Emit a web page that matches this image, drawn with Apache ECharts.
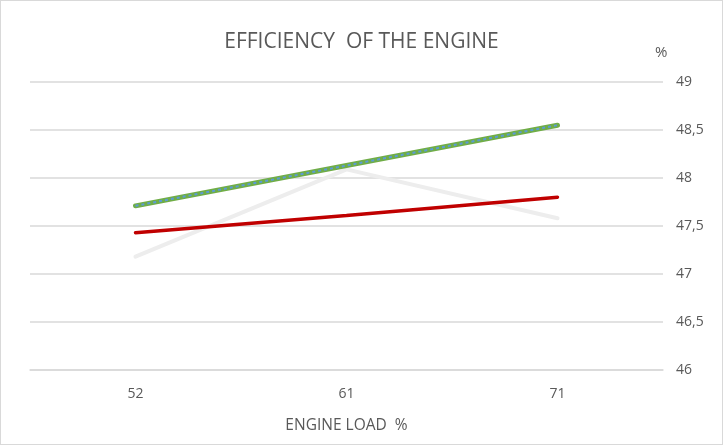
<!DOCTYPE html>
<html>
<head>
<meta charset="utf-8">
<script src="https://cdn.jsdelivr.net/npm/echarts@6/dist/echarts.min.js"></script>
<style>
html,body{margin:0;padding:0;background:#fff;}
#chart{position:absolute;left:0;top:0;width:721px;height:443px;border:1px solid #d9d9d9;}
</style>
</head>
<body>
<div id="chart"></div>
<script>
var loads = ['52', '61', '71'];
var greenVals = [47.71, 48.13, 48.55];
var blueVals = [47.71, 48.13, 48.55];
var redVals = [47.43, 47.61, 47.80];
var greyVals = [47.18, 48.09, 47.58];

var font = 'Open Sans';
var txt = '#595959';

var myChart = echarts.init(document.getElementById('chart'));
var option = {
    animation: false,
    title: {
        text: 'EFFICIENCY  OF THE ENGINE',
        left: 'center',
        top: 26,
        textStyle: {color: txt, fontSize: 21, fontWeight: 'normal', fontFamily: font}
    },
    grid: {left: 29, right: 59, top: 81, bottom: 74},
    xAxis: {
        type: 'category',
        data: loads,
        boundaryGap: true,
        name: 'ENGINE LOAD  %',
        nameLocation: 'middle',
        nameGap: 48,
        nameTextStyle: {color: txt, fontSize: 15.5, fontFamily: font},
        axisLine: {lineStyle: {color: '#d9d9d9', width: 1.5}},
        axisTick: {show: false},
        axisLabel: {color: txt, fontSize: 14, fontFamily: font, margin: 17}
    },
    yAxis: {
        type: 'value',
        position: 'right',
        min: 46,
        max: 49,
        interval: 0.5,
        name: '%',
        nameGap: 22,
        nameTextStyle: {color: txt, fontSize: 15, fontFamily: font, align: 'left', padding: [0, 0, 0, -8]},
        axisLine: {show: false},
        axisTick: {show: false},
        splitLine: {lineStyle: {color: '#d9d9d9', width: 1.5}},
        axisLabel: {
            color: txt, fontSize: 14, fontFamily: font, margin: 13,
            formatter: function (v) { return String(v).replace('.', ','); }
        }
    },
    series: [
        {
            name: 'grey', type: 'line', data: greyVals, symbol: 'none',
            lineStyle: {color: '#ededed', width: 4, cap: 'round'}
        },
        {
            name: 'red', type: 'line', data: redVals, symbol: 'none',
            lineStyle: {color: '#c00000', width: 3.5, cap: 'round'}
        },
        {
            name: 'green', type: 'line', data: greenVals, symbol: 'none',
            lineStyle: {color: '#70ad47', width: 5, cap: 'round'}
        },
        {
            name: 'blue', type: 'line', data: blueVals, symbol: 'none',
            lineStyle: {color: '#5b9bd5', width: 2, type: [3, 3]}
        }
    ]
};
myChart.setOption(option);
</script>
</body>
</html>
